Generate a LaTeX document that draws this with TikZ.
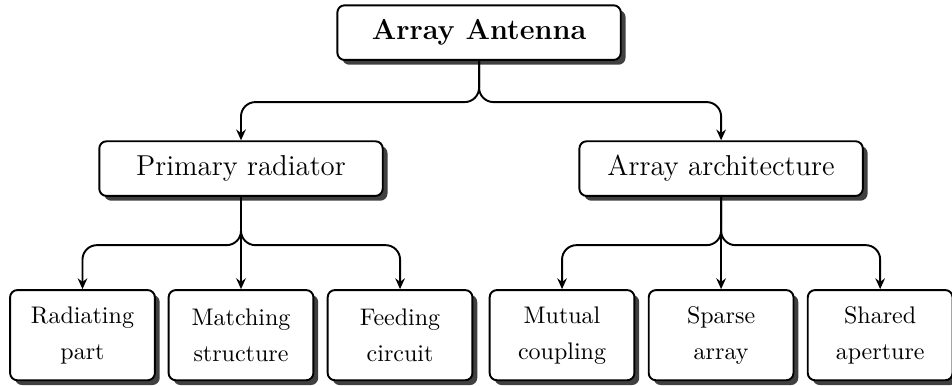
\documentclass[tikz,border=0pt]{standalone}
\usetikzlibrary{arrows.meta,shadows}

\begin{document}
\begin{tikzpicture}

          \useasboundingbox (0,0) rectangle (13.94,5.64);

          \tikzset{
            box/.style={draw,thick,rounded corners=3pt,fill=white,align=center,
              drop shadow={shadow xshift=2pt,shadow yshift=-2pt,fill=black!75,opacity=1}},
            link/.style={thick,rounded corners=6pt,-{Stealth[length=4.5pt,width=4pt,inset=1.5pt]}}
          }

          \begin{scope}[every node/.style={box,minimum width=4.15cm,minimum height=0.8cm}]
            \node (0) at (7.015,5.162) {\large\bfseries Array Antenna};
            \node (1) at (3.529,3.171) {\large Primary radiator};
            \node (2) at (10.559,3.171) {\large Array architecture};
          \end{scope}

          \begin{scope}[every node/.style={box,minimum width=2.12cm,minimum height=1.32cm,
              font=\linespread{1.25}\selectfont}]
            \node (11) at (1.208,0.732)  {Radiating\\part};
            \node (12) at (3.529,0.732)  {Matching\\structure};
            \node (13) at (5.858,0.732)  {Feeding\\circuit};
            \node (21) at (8.230,0.732)  {Mutual\\coupling};
            \node (22) at (10.559,0.732) {Sparse\\array};
            \node (23) at (12.888,0.732) {Shared\\aperture};
          \end{scope}

          \coordinate (j0) at (7.015,4.145);
          \coordinate (j1) at (3.529,2.050);
          \coordinate (j2) at (10.559,2.050);

          \begin{scope}[every path/.style={link}]
            \draw (0.south) -- (j0) -| (1.north);
            \draw (0.south) -- (j0) -| (2.north);
            \draw (1.south) -- (j1) -| (11.north);
            \draw (1.south) -- (12.north);
            \draw (1.south) -- (j1) -| (13.north);
            \draw (2.south) -- (j2) -| (21.north);
            \draw (2.south) -- (22.north);
            \draw (2.south) -- (j2) -| (23.north);
          \end{scope}

        \end{tikzpicture}
\end{document}
